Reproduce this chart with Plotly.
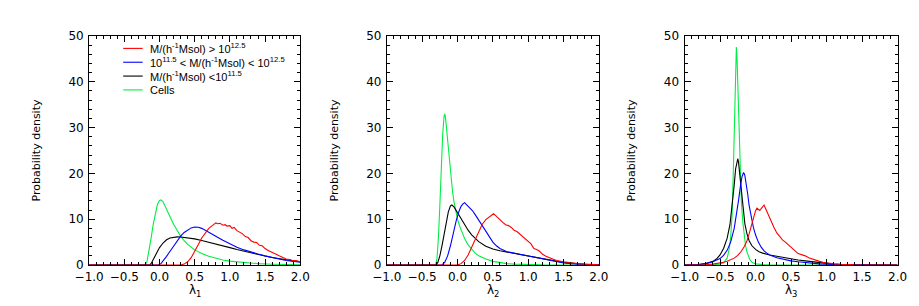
import plotly.graph_objects as go

# ---------------- data ----------------
# Panel 1: lambda_1
l1_cells_x = [-1.0, -0.21, -0.18, -0.15, -0.12, -0.09, -0.06, -0.03, 0.0, 0.02, 0.05, 0.08, 0.12, 0.16, 0.2,
              0.25, 0.3, 0.35, 0.4, 0.5, 0.6, 0.7, 0.8, 0.9, 1.0, 1.2, 1.4, 1.6, 1.8, 2.0]
l1_cells_y = [0, 0, 0.6, 2.8, 5.8, 8.8, 11.4, 13.2, 14.1, 14.2, 13.8, 12.9, 11.6, 10.2, 8.9,
              7.5, 6.3, 5.3, 4.5, 3.3, 2.5, 1.9, 1.45, 1.1, 0.85, 0.5, 0.3, 0.18, 0.1, 0.06]
l1_low_x = [-1.0, -0.14, -0.12, -0.08, -0.04, 0.0, 0.05, 0.1, 0.15, 0.2, 0.25, 0.3, 0.4, 0.5, 0.6, 0.7, 0.8,
            0.9, 1.0, 1.1, 1.2, 1.3, 1.4, 1.5, 1.6, 1.7, 1.8, 1.9, 2.0]
l1_low_y = [0, 0, 0.3, 1.4, 2.7, 3.8, 4.8, 5.5, 5.9, 6.1, 6.15, 6.1, 5.95, 5.7, 5.35, 5.0, 4.6,
            4.2, 3.8, 3.4, 3.0, 2.65, 2.3, 1.95, 1.65, 1.35, 1.1, 0.9, 0.7]
l1_mid_x = [-1.0, -0.02, 0.02, 0.06, 0.1, 0.15, 0.2, 0.25, 0.3, 0.35, 0.4, 0.45, 0.5, 0.55, 0.6, 0.65, 0.7,
            0.8, 0.9, 1.0, 1.1, 1.2, 1.3, 1.4, 1.5, 1.6, 1.7, 1.8, 1.9, 2.0]
l1_mid_y = [0, 0, 0.3, 1.0, 1.9, 3.0, 4.2, 5.3, 6.3, 7.1, 7.7, 8.1, 8.3, 8.25, 8.0, 7.6, 7.2,
            6.3, 5.4, 4.6, 3.9, 3.3, 2.8, 2.4, 2.0, 1.6, 1.3, 1.0, 0.8, 0.6]
l1_high_x = [-1.0, 0.3, 0.35, 0.4, 0.45, 0.5, 0.55, 0.6, 0.65, 0.7, 0.75, 0.78, 0.8, 0.83, 0.86, 0.9, 0.93,
             0.96, 1.0, 1.03, 1.06, 1.1, 1.14, 1.18, 1.22, 1.26, 1.3, 1.34, 1.38, 1.42, 1.46, 1.5, 1.55,
             1.6, 1.65, 1.7, 1.75, 1.8, 1.85, 1.9, 1.95, 2.0]
l1_high_y = [0, 0, 0.2, 0.7, 1.6, 2.9, 4.4, 5.9, 7.1, 8.0, 8.6, 8.9, 9.2, 9.0, 9.1, 8.7, 8.8,
             8.5, 8.6, 8.0, 8.2, 7.5, 7.1, 6.8, 6.2, 6.0, 5.3, 5.0, 4.9, 4.3, 4.2, 3.6, 3.1,
             2.8, 2.4, 2.0, 1.7, 1.3, 1.2, 0.95, 0.9, 0.7]

# Panel 2: lambda_2
l2_cells_x = [-1.0, -0.31, -0.29, -0.27, -0.25, -0.23, -0.21, -0.19, -0.18, -0.17, -0.15, -0.13, -0.11,
              -0.09, -0.07, -0.05, -0.02, 0.0, 0.03, 0.06, 0.1, 0.15, 0.2, 0.25, 0.3, 0.4, 0.5, 0.6, 0.7,
              0.8, 1.0, 1.2, 2.0]
l2_cells_y = [0, 0, 1.5, 6, 13, 21, 28.5, 32.5, 33.0, 32.2, 29, 25, 21.5,
              18.5, 16, 13.8, 11.5, 10.0, 8.5, 7.2, 5.8, 4.4, 3.4, 2.6, 2.0, 1.3, 0.8, 0.5, 0.3,
              0.2, 0.08, 0.03, 0]
l2_low_x = [-1.0, -0.31, -0.28, -0.25, -0.22, -0.19, -0.16, -0.13, -0.1, -0.08, -0.05, -0.02, 0.02, 0.06,
            0.1, 0.15, 0.2, 0.25, 0.3, 0.4, 0.5, 0.6, 0.7, 0.8, 0.9, 1.0, 1.1, 1.2, 1.3, 1.4, 1.5, 1.6,
            1.7, 1.8, 1.9, 2.0]
l2_low_y = [0, 0, 0.5, 2.0, 4.2, 6.8, 9.4, 11.6, 12.9, 13.1, 12.7, 11.9, 10.8, 9.7,
            8.7, 7.6, 6.6, 5.8, 5.1, 4.1, 3.5, 3.1, 2.8, 2.5, 2.3, 2.0, 1.7, 1.4, 1.1, 0.85, 0.6, 0.4,
            0.28, 0.18, 0.1, 0.06]
l2_mid_x = [-1.0, -0.22, -0.18, -0.14, -0.1, -0.06, -0.02, 0.02, 0.05, 0.08, 0.1, 0.12, 0.15, 0.18, 0.21,
            0.25, 0.3, 0.35, 0.4, 0.45, 0.5, 0.55, 0.6, 0.7, 0.8, 0.9, 1.0, 1.1, 1.2, 1.3, 1.4, 1.5,
            1.6, 1.7, 1.8, 2.0]
l2_mid_y = [0, 0, 0.6, 2.0, 4.2, 7.0, 9.6, 11.7, 12.8, 13.4, 13.6, 13.3, 12.9, 12.5, 11.9,
            11.0, 9.8, 8.5, 7.2, 6.0, 5.0, 4.2, 3.6, 2.9, 2.6, 2.3, 2.0, 1.6, 1.25, 0.95, 0.7, 0.45,
            0.3, 0.18, 0.1, 0.04]
l2_high_x = [-1.0, 0.0, 0.05, 0.1, 0.15, 0.2, 0.25, 0.3, 0.35, 0.4, 0.45, 0.48, 0.51, 0.54, 0.57, 0.6,
             0.64, 0.68, 0.72, 0.76, 0.8, 0.84, 0.88, 0.92, 0.96, 1.0, 1.04, 1.08, 1.12, 1.16, 1.2,
             1.25, 1.3, 1.35, 1.4, 1.5, 1.6, 1.7, 1.8, 1.9, 2.0]
l2_high_y = [0, 0, 0.3, 1.0, 2.2, 3.9, 5.8, 7.6, 8.9, 9.9, 10.5, 10.9, 11.2, 10.8, 10.3, 9.9,
             9.3, 8.8, 8.6, 8.2, 7.6, 7.3, 6.8, 6.2, 5.8, 5.2, 4.6, 3.6, 3.4, 3.0, 2.4,
             1.9, 1.6, 1.3, 1.0, 0.7, 0.45, 0.3, 0.2, 0.1, 0.06]

# Panel 3: lambda_3
l3_cells_x = [-1.0, -0.6, -0.5, -0.45, -0.4, -0.37, -0.35, -0.33, -0.31, -0.29, -0.28, -0.27, -0.26,
              -0.25, -0.24, -0.23, -0.22, -0.2, -0.18, -0.16, -0.14, -0.12, -0.1, -0.08, -0.05, 0.0,
              0.1, 0.2, 2.0]
l3_cells_y = [0, 0, 0.2, 0.5, 1.5, 3.5, 6, 11, 22, 36, 43, 47.6, 45,
              39, 32, 26, 21, 14, 9.5, 6.3, 4.2, 2.8, 1.9, 1.2, 0.6, 0.25,
              0.08, 0.02, 0]
l3_low_x = [-1.0, -0.9, -0.8, -0.7, -0.6, -0.55, -0.5, -0.45, -0.4, -0.36, -0.33, -0.3, -0.28, -0.26,
            -0.25, -0.24, -0.22, -0.2, -0.18, -0.15, -0.12, -0.09, -0.05, 0.0, 0.05, 0.1, 0.2, 0.3,
            0.4, 0.5, 0.6, 0.7, 0.8, 0.9, 1.0, 1.1, 1.2, 1.4, 2.0]
l3_low_y = [0, 0.02, 0.1, 0.3, 0.8, 1.3, 2.2, 3.6, 5.8, 8.8, 12.5, 17.5, 21.0, 23.0,
            23.2, 22.5, 19.5, 16.0, 12.5, 9.0, 6.8, 5.3, 4.2, 3.4, 2.9, 2.6, 2.2, 1.9,
            1.6, 1.35, 1.1, 0.9, 0.7, 0.5, 0.35, 0.2, 0.12, 0.04, 0]
l3_mid_x = [-1.0, -0.9, -0.8, -0.7, -0.6, -0.5, -0.45, -0.4, -0.35, -0.3, -0.27, -0.24, -0.21, -0.19,
            -0.17, -0.16, -0.15, -0.13, -0.11, -0.09, -0.06, -0.03, 0.0, 0.04, 0.08, 0.12, 0.16, 0.2,
            0.3, 0.4, 0.5, 0.6, 0.7, 0.8, 0.9, 1.0, 1.1, 1.2, 1.4, 2.0]
l3_mid_y = [0, 0.02, 0.1, 0.3, 0.7, 1.4, 2.1, 3.2, 5.0, 8.0, 10.8, 14.0, 17.5, 19.3,
            20.1, 20.0, 19.5, 17.8, 15.5, 13.0, 10.2, 8.2, 6.6, 5.0, 3.9, 3.1, 2.6, 2.2,
            1.6, 1.2, 0.9, 0.7, 0.5, 0.35, 0.25, 0.15, 0.1, 0.05, 0.02, 0]
l3_high_x = [-1.0, -0.8, -0.7, -0.6, -0.5, -0.45, -0.4, -0.35, -0.3, -0.25, -0.2, -0.16, -0.12, -0.09,
             -0.06, -0.03, 0.0, 0.02, 0.04, 0.06, 0.08, 0.1, 0.12, 0.14, 0.17, 0.2, 0.23, 0.26, 0.3,
             0.34, 0.38, 0.42, 0.46, 0.5, 0.55, 0.6, 0.65, 0.7, 0.75, 0.8, 0.85, 0.9, 0.95, 1.0,
             1.1, 1.2, 1.3, 1.4, 2.0]
l3_high_y = [0, 0, 0.05, 0.2, 0.4, 0.6, 0.8, 1.1, 1.5, 2.1, 3.0, 4.0, 5.3, 6.8,
             8.5, 10.3, 11.8, 12.4, 12.1, 11.9, 12.3, 12.8, 13.1, 12.4, 11.3, 10.2, 9.0, 8.2, 7.0,
             6.2, 5.5, 5.0, 4.5, 3.9, 3.2, 2.5, 2.3, 2.0, 1.6, 1.3, 1.05, 0.8, 0.6, 0.45,
             0.25, 0.15, 0.08, 0.04, 0]

x_titles = ["λ<sub>1</sub>", "λ<sub>2</sub>", "λ<sub>3</sub>"]
y_title = "Probability density"
legend_labels = [
    "M/(h<sup>-1</sup>Msol) &gt; 10<sup>12.5</sup>",
    "10<sup>11.5</sup> &lt; M/(h<sup>-1</sup>Msol) &lt; 10<sup>12.5</sup>",
    "M/(h<sup>-1</sup>Msol) &lt;10<sup>11.5</sup>",
    "Cells",
]
colors = {"high": "#ff0000", "mid": "#0000ff", "low": "#000000", "cells": "#00ee44"}

panels = [
    dict(cells=(l1_cells_x, l1_cells_y), low=(l1_low_x, l1_low_y), mid=(l1_mid_x, l1_mid_y), high=(l1_high_x, l1_high_y)),
    dict(cells=(l2_cells_x, l2_cells_y), low=(l2_low_x, l2_low_y), mid=(l2_mid_x, l2_mid_y), high=(l2_high_x, l2_high_y)),
    dict(cells=(l3_cells_x, l3_cells_y), low=(l3_low_x, l3_low_y), mid=(l3_mid_x, l3_mid_y), high=(l3_high_x, l3_high_y)),
]

W, H = 919, 306
x_domains = [(68 / W, 285 / W), (374 / W, 592 / W), (680 / W, 899 / W)]
y_domain = ((H - 262) / H, (H - 22) / H)
FONT = "DejaVu Sans, Verdana, sans-serif"
LEG_FONT = "Liberation Sans, Arial, Helvetica, sans-serif"

fig = go.Figure()
for i, p in enumerate(panels):
    sfx = "" if i == 0 else str(i + 1)
    for key in ["cells", "low", "mid", "high"]:
        xs, ys = p[key]
        fig.add_trace(go.Scatter(x=xs, y=ys, mode="lines", line=dict(color=colors[key], width=1.1),
                                 xaxis="x" + sfx, yaxis="y" + sfx, showlegend=False, hoverinfo="skip"))
    common = dict(showline=True, linecolor="black", linewidth=1, mirror="ticks", ticks="inside",
                  tickcolor="black", tickwidth=1, showgrid=False, zeroline=False,
                  tickfont=dict(family=FONT, size=12, color="black"))
    fig.layout["xaxis" + sfx] = dict(common, domain=x_domains[i], range=[-1, 2], tick0=-1, dtick=0.5,
                                     tickformat=".1f", ticklen=6, anchor="y" + sfx,
                                     minor=dict(dtick=0.1, ticklen=3, ticks="inside", tickcolor="black"),
                                     ticklabelstandoff=1)
    fig.layout["yaxis" + sfx] = dict(common, domain=y_domain, range=[0, 50], tick0=0, dtick=10,
                                     ticklen=6, anchor="x" + sfx,
                                     minor=dict(dtick=2, ticklen=3, ticks="inside", tickcolor="black"),
                                     ticklabelstandoff=2,
                                     title=dict(text=y_title, font=dict(family=FONT, size=11, color="black"),
                                                standoff=25))
    # x-axis title (lambda_i) placed under the tick labels
    xc = (x_domains[i][0] + x_domains[i][1]) / 2
    fig.add_annotation(text=x_titles[i], xref="paper", yref="paper", x=xc, y=(H - 289) / H,
                       xanchor="center", yanchor="middle", showarrow=False,
                       font=dict(family=FONT, size=12, color="black"))

# legend drawn inside first panel
leg_rows_y = [35, 49.5, 64, 78.5]
leg_keys = ["high", "mid", "low", "cells"]
for ry, key, lab in zip(leg_rows_y, leg_keys, legend_labels):
    fig.add_shape(type="line", xref="paper", yref="paper", x0=103 / W, x1=123 / W,
                  y0=(H - ry) / H, y1=(H - ry) / H, line=dict(color=colors[key], width=1.1))
    fig.add_annotation(text=lab, xref="paper", yref="paper", x=129 / W, y=(H - ry) / H,
                       xanchor="left", yanchor="middle", showarrow=False,
                       font=dict(family=LEG_FONT, size=11, color="black"))

fig.update_layout(width=W, height=H, margin=dict(l=0, r=0, t=0, b=0),
                  plot_bgcolor="white", paper_bgcolor="white", showlegend=False)
fig.write_html("out.html")
